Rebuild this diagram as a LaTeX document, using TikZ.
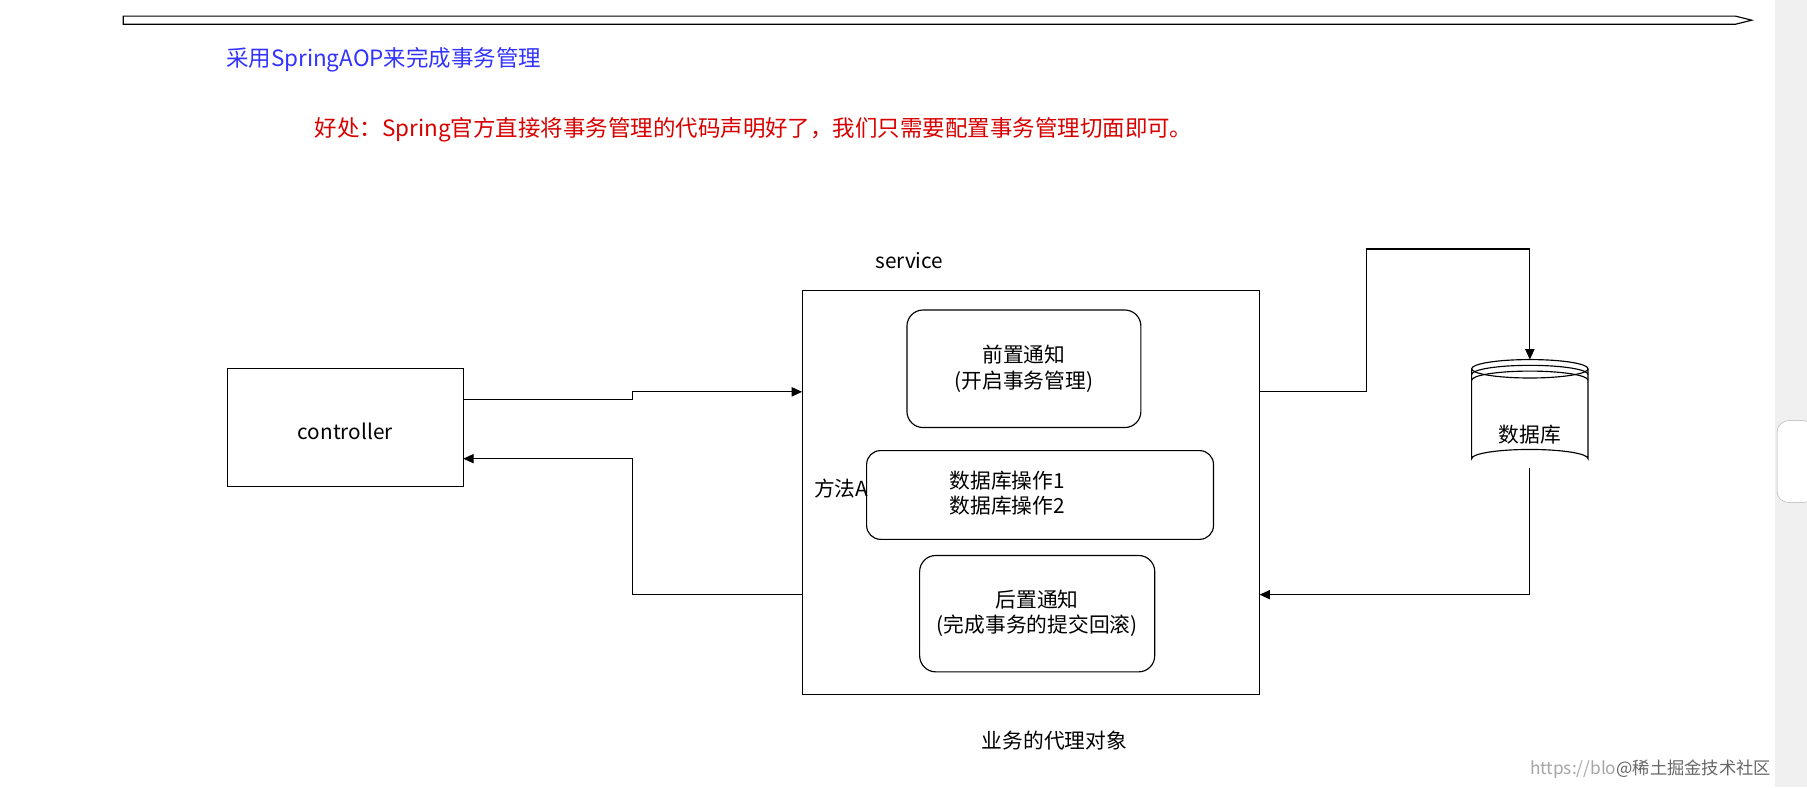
\documentclass[tikz,border=0pt]{standalone}
\usepackage{fontspec}
\setmainfont{Noto Sans CJK SC}
\usetikzlibrary{shapes.geometric,arrows.meta}
\begin{document}
\begin{tikzpicture}[x=1pt,y=-1pt,
  box/.style={draw,line width=1pt,rounded corners=#1},
  box/.default=0pt,
  conn/.style={draw,line width=1pt,-{Triangle[length=9pt,width=8pt]}},
  txt/.style={font=\fontsize{18}{22}\selectfont,align=center,inner sep=0pt}]
\useasboundingbox[fill=white] (0,0) rectangle (1568,683);
% scrollbar
\fill[black!6] (1540,0) rectangle (1568,683);
\filldraw[fill=white,draw=black!30,rounded corners=10pt] (1542,365) rectangle (1575,436);
% top bar
\draw[line width=1pt] (107,14) -- (1506,14) -- (1520,17.5) -- (1506,21) -- (107,21) -- cycle;
% texts
\node[txt,anchor=west,text=blue!80!white,font=\fontsize{19.5}{22}\selectfont] (t1) at (196,52) {采用SpringAOP来完成事务管理};
\node[txt,anchor=west,text=red!85!black,font=\fontsize{19.5}{22}\selectfont] (t2) at (273,113) {好处：Spring官方直接将事务管理的代码声明好了，我们只需要配置事务管理切面即可。};
\node[txt] (svclbl) at (789,226) {service};
\node[txt] (proxy) at (915,643) {业务的代理对象};
\node[txt,anchor=east,text=black!35,font=\fontsize{15}{16}\selectfont] (wm) at (1537,667) {https://blo\textcolor{black!60}{@稀土掘金技术社区}};
% boxes
\draw[box] (696,252) rectangle (1093,603);
\draw[box=14pt] (787,269) rectangle (990,371);
\node[txt] (pre) at (888.5,320) {前置通知\\(开启事务管理)};
\draw[box=12pt] (752,391) rectangle (1053,468);
\node[txt] (ops) at (874,428) {数据库操作1\\数据库操作2};
\node[txt] (mA) at (730,424) {方法A};
\draw[box=14pt] (798,482) rectangle (1002,583);
\node[txt] (post) at (900,532) {后置通知\\(完成事务的提交回滚)};
\draw[box] (197.5,320) rectangle (402,422);
\node[txt] (ctrl) at (299.5,374) {controller};
% cylinder
\draw[line width=1pt] (1277,320) -- (1277,398) arc[start angle=180,end angle=360,x radius=50.5,y radius=8] -- (1378,320);
\draw[line width=1pt] (1327.5,320) ellipse[x radius=50.5,y radius=8];
\draw[line width=1pt] (1277,325) arc[start angle=180,end angle=360,x radius=50.5,y radius=8];
\draw[line width=1pt] (1277,330) arc[start angle=180,end angle=360,x radius=50.5,y radius=8];
\node[txt] (db) at (1327.5,377) {数据库};
\coordinate (dbtop) at (1327.5,312);
\coordinate (dbbot) at (1327.5,406);
% connectors
\draw[conn] (402,347) -- (549,347) -- (549,340) -- (696,340);
\draw[conn] (696,516) -- (549,516) -- (549,398) -- (402,398);
\draw[conn] (1093,340) -- (1186,340) -- (1186,216) -- (1327.5,216) -- (dbtop);
\draw[conn] (dbbot) -- (1327.5,516) -- (1093,516);
\end{tikzpicture}
\end{document}
